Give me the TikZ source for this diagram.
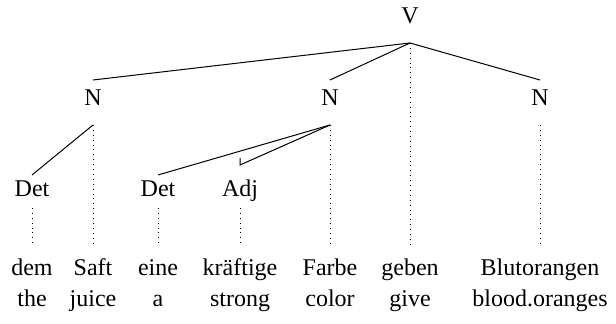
\documentclass[tikz,border=0pt]{standalone}
\usepackage{fontspec}
\setmainfont{Liberation Serif}
\begin{document}
\begin{tikzpicture}[x=0.5pt,y=-0.5pt,
  lbl/.style={inner sep=0pt,font=\fontsize{12}{14}\selectfont,text height=1.6ex,text depth=0.45ex},
  branch/.style={line width=0.5pt},
  trace/.style={line width=0.45pt,dotted}]
\useasboundingbox (0,0) rectangle (616,324);
% category nodes
\node[lbl] (V) at (410,18) {V};
\node[lbl] (N1) at (93,100) {N};
\node[lbl] (N2) at (330,100) {N};
\node[lbl] (N3) at (540,100) {N};
\node[lbl] (D1) at (32,191) {Det};
\node[lbl] (D2) at (158,191) {Det};
\node[lbl] (A) at (240,191) {Adj};
% words
\node[lbl] (w1) at (32,270) {dem};
\node[lbl] (w2) at (93,270) {Saft};
\node[lbl] (w3) at (158,270) {eine};
\node[lbl] (w4) at (240,270) {kräftige};
\node[lbl] (w5) at (330,270) {Farbe};
\node[lbl] (w6) at (410,270) {geben};
\node[lbl] (w7) at (540,270) {Blutorangen};
% glosses
\node[lbl] (g1) at (32,301) {the};
\node[lbl] (g2) at (93,301) {juice};
\node[lbl] (g3) at (158,301) {a};
\node[lbl] (g4) at (240,301) {strong};
\node[lbl] (g5) at (330,301) {color};
\node[lbl] (g6) at (410,301) {give};
\node[lbl] (g7) at (540,301) {blood.oranges};
% attachment points
\coordinate (Vb) at (410,43);
\coordinate (N1t) at (93,80);  \coordinate (N1b) at (93,125);
\coordinate (N2t) at (330,80); \coordinate (N2b) at (330,125);
\coordinate (N3t) at (540,80); \coordinate (N3b) at (540,125);
\coordinate (D1t) at (32,175); \coordinate (D1b) at (32,208);
\coordinate (D2t) at (158,175); \coordinate (D2b) at (158,208);
\coordinate (At) at (240,165); \coordinate (Atick) at (240,158); \coordinate (Ab) at (240,208);
\coordinate (w1t) at (32,245); \coordinate (w2t) at (93,245); \coordinate (w3t) at (158,245);
\coordinate (w4t) at (240,245); \coordinate (w5t) at (330,245); \coordinate (w6t) at (410,245);
\coordinate (w7t) at (540,245);
% branches
\draw[branch] (Vb) -- (N1t);
\draw[branch] (Vb) -- (N2t);
\draw[branch] (Vb) -- (N3t);
\draw[branch] (N1b) -- (D1t);
\draw[branch] (N2b) -- (D2t);
\draw[branch] (N2b) -- (At) -- (Atick);
% traces
\draw[trace] (Vb) -- (w6t);
\draw[trace] (N1b) -- (w2t);
\draw[trace] (N2b) -- (w5t);
\draw[trace] (N3b) -- (w7t);
\draw[trace] (D1b) -- (w1t);
\draw[trace] (D2b) -- (w3t);
\draw[trace] (Ab) -- (w4t);
\end{tikzpicture}
\end{document}
